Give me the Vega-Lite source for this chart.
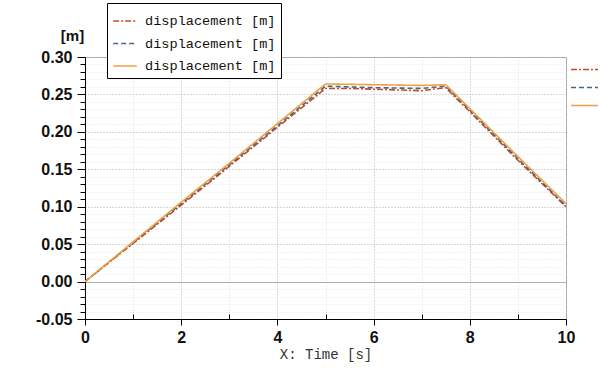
{
  "$schema": "https://vega.github.io/schema/vega-lite/v6.json",
  "width": 481,
  "height": 262,
  "autosize": {"type": "none"},
  "padding": {"left": 85, "top": 57, "right": 34, "bottom": 54},
  "background": "white",
  "config": {
    "view": {"stroke": "#aaaaaa", "strokeWidth": 1},
    "font": "Liberation Sans"
  },
  "data": {
    "values": [
      {"t": 0, "v": 0, "s": "a"},
      {"t": 1, "v": 0.051, "s": "a"},
      {"t": 2, "v": 0.102, "s": "a"},
      {"t": 3, "v": 0.154, "s": "a"},
      {"t": 4, "v": 0.206, "s": "a"},
      {"t": 5, "v": 0.258, "s": "a"},
      {"t": 5.5, "v": 0.258, "s": "a"},
      {"t": 6, "v": 0.257, "s": "a"},
      {"t": 6.5, "v": 0.256, "s": "a"},
      {"t": 7, "v": 0.255, "s": "a"},
      {"t": 7.5, "v": 0.259, "s": "a"},
      {"t": 8, "v": 0.227, "s": "a"},
      {"t": 9, "v": 0.162, "s": "a"},
      {"t": 10, "v": 0.1, "s": "a"},
      {"t": 0, "v": 0, "s": "b"},
      {"t": 1, "v": 0.052, "s": "b"},
      {"t": 2, "v": 0.104, "s": "b"},
      {"t": 3, "v": 0.156, "s": "b"},
      {"t": 4, "v": 0.208, "s": "b"},
      {"t": 5, "v": 0.261, "s": "b"},
      {"t": 6, "v": 0.259, "s": "b"},
      {"t": 7, "v": 0.258, "s": "b"},
      {"t": 7.5, "v": 0.261, "s": "b"},
      {"t": 8, "v": 0.229, "s": "b"},
      {"t": 9, "v": 0.164, "s": "b"},
      {"t": 10, "v": 0.101, "s": "b"},
      {"t": 0, "v": 0, "s": "c"},
      {"t": 1, "v": 0.053, "s": "c"},
      {"t": 2, "v": 0.106, "s": "c"},
      {"t": 3, "v": 0.158, "s": "c"},
      {"t": 4, "v": 0.211, "s": "c"},
      {"t": 5, "v": 0.264, "s": "c"},
      {"t": 6, "v": 0.263, "s": "c"},
      {"t": 7, "v": 0.262, "s": "c"},
      {"t": 7.5, "v": 0.263, "s": "c"},
      {"t": 8, "v": 0.231, "s": "c"},
      {"t": 9, "v": 0.167, "s": "c"},
      {"t": 10, "v": 0.104, "s": "c"}
    ]
  },
  "encoding": {
    "x": {
      "field": "t", "type": "quantitative",
      "scale": {"domain": [0, 10], "nice": false},
      "axis": {
        "title": "X: Time [s]",
        "titleFont": "Liberation Mono",
        "titleFontWeight": "normal",
        "titleFontSize": 14,
        "titleColor": "#333333",
        "titlePadding": 2,
        "values": [0, 1, 2, 3, 4, 5, 6, 7, 8, 9, 10],
        "labelExpr": "datum.value % 2 == 0 ? datum.label : ''",
        "labelFlush": false,
        "labelFont": "Liberation Sans",
        "labelFontWeight": "bold",
        "labelFontSize": 16,
        "labelColor": "#111111",
        "labelPadding": 4,
        "domainColor": "#000000",
        "tickColor": "#000000",
        "tickSize": {"condition": {"test": "datum.value % 2 == 0", "value": 6}, "value": -5},
        "grid": true,
        "gridDash": [1, 2],
        "gridColor": {"condition": {"test": "datum.value % 2 == 0", "value": "#b0b0b0"}, "value": "#dddddd"}
      }
    },
    "y": {
      "field": "v", "type": "quantitative",
      "scale": {"domain": [-0.05, 0.3], "nice": false, "zero": false},
      "axis": {
        "title": "[m]",
        "titleAngle": 0,
        "titleFont": "Liberation Sans",
        "titleFontWeight": "bold",
        "titleFontSize": 15,
        "titleColor": "#111111",
        "titleAlign": "center",
        "titleBaseline": "bottom",
        "titleX": -13,
        "titleY": -14,
        "values": [-0.05, -0.04, -0.03, -0.02, -0.01, 0, 0.01, 0.02, 0.03, 0.04, 0.05, 0.06, 0.07, 0.08, 0.09, 0.1, 0.11, 0.12, 0.13, 0.14, 0.15, 0.16, 0.17, 0.18, 0.19, 0.2, 0.21, 0.22, 0.23, 0.24, 0.25, 0.26, 0.27, 0.28, 0.29, 0.3],
        "labelExpr": "abs(round(datum.value * 100)) % 5 == 0 ? (datum.value < -0.001 ? '-' + format(abs(datum.value), '.2f') : format(abs(datum.value), '.2f')) : ''",
        "labelFlush": false,
        "labelFont": "Liberation Sans",
        "labelFontWeight": "bold",
        "labelFontSize": 16,
        "labelColor": "#111111",
        "labelPadding": 5,
        "domainColor": "#000000",
        "tickColor": "#000000",
        "tickSize": {"condition": {"test": "abs(round(datum.value * 100)) % 5 == 0", "value": 8}, "value": 5},
        "grid": true,
        "gridDash": {"condition": {"test": "abs(datum.value) < 0.001", "value": []}, "value": [1, 2]},
        "gridColor": {"condition": {"test": "abs(round(datum.value * 100)) % 5 == 0", "value": "#b0b0b0"}, "value": "#e6e6e6"}
      }
    }
  },
  "layer": [
    {
      "mark": {"type": "line", "clip": true},
      "encoding": {
        "color": {
          "field": "s", "type": "nominal",
          "scale": {"domain": ["a", "b", "c"], "range": ["#c24b2f", "#4a6580", "#f0a040"]},
          "legend": {
            "orient": "none", "legendX": 22, "legendY": -54,
            "title": null,
            "labelExpr": "'displacement [m]'",
            "labelFont": "Liberation Mono",
            "labelFontSize": 13.6,
            "labelColor": "#111111",
            "symbolType": "stroke",
            "symbolSize": 560,
            "rowPadding": 2.5,
            "padding": 5,
            "strokeColor": "#000000",
            "fillColor": "#ffffff",
            "labelOffset": 7
          }
        },
        "strokeDash": {
          "field": "s", "type": "nominal",
          "scale": {"domain": ["a", "b", "c"], "range": [[6, 2, 2, 2], [5, 3], [1, 0]]},
          "legend": {
            "orient": "none", "legendX": 22, "legendY": -54,
            "title": null,
            "labelExpr": "'displacement [m]'",
            "labelFont": "Liberation Mono",
            "labelFontSize": 13.6,
            "labelColor": "#111111",
            "symbolType": "stroke",
            "symbolSize": 560,
            "rowPadding": 2.5,
            "padding": 5,
            "strokeColor": "#000000",
            "fillColor": "#ffffff",
            "labelOffset": 7
          }
        },
        "strokeWidth": {
          "field": "s", "type": "nominal",
          "scale": {"domain": ["a", "b", "c"], "range": [1.6, 1.6, 2.2]},
          "legend": {
            "orient": "none", "legendX": 22, "legendY": -54,
            "title": null,
            "labelExpr": "'displacement [m]'",
            "labelFont": "Liberation Mono",
            "labelFontSize": 13.6,
            "labelColor": "#111111",
            "symbolType": "stroke",
            "symbolSize": 560,
            "rowPadding": 2.5,
            "padding": 5,
            "strokeColor": "#000000",
            "fillColor": "#ffffff",
            "labelOffset": 7
          }
        }
      }
    },
    {
      "mark": {"type": "line", "opacity": 0},
      "encoding": {
        "color": {
          "field": "s", "type": "nominal",
          "scale": {"domain": ["a", "b", "c"], "range": ["#c24b2f", "#4a6580", "#f0a040"]},
          "legend": {
            "orient": "none", "legendX": 485, "legendY": -2,
            "title": null, "labelExpr": "''", "labelFontSize": 1,
            "symbolType": "stroke", "symbolSize": 729, "symbolOpacity": 1,
            "rowPadding": 0, "padding": 0
          }
        },
        "strokeDash": {
          "field": "s", "type": "nominal",
          "scale": {"domain": ["a", "b", "c"], "range": [[6, 2, 2, 2], [5, 3], [1, 0]]},
          "legend": {
            "orient": "none", "legendX": 485, "legendY": -2,
            "title": null, "labelExpr": "''", "labelFontSize": 1,
            "symbolType": "stroke", "symbolSize": 729, "symbolOpacity": 1,
            "rowPadding": 0, "padding": 0
          }
        },
        "strokeWidth": {
          "field": "s", "type": "nominal",
          "scale": {"domain": ["a", "b", "c"], "range": [1.6, 1.6, 2.2]},
          "legend": {
            "orient": "none", "legendX": 485, "legendY": -2,
            "title": null, "labelExpr": "''", "labelFontSize": 1,
            "symbolType": "stroke", "symbolSize": 729, "symbolOpacity": 1,
            "rowPadding": 0, "padding": 0
          }
        }
      }
    }
  ],
  "resolve": {
    "scale": {"color": "independent", "strokeDash": "independent", "strokeWidth": "independent"},
    "legend": {"color": "independent", "strokeDash": "independent", "strokeWidth": "independent"}
  }
}
